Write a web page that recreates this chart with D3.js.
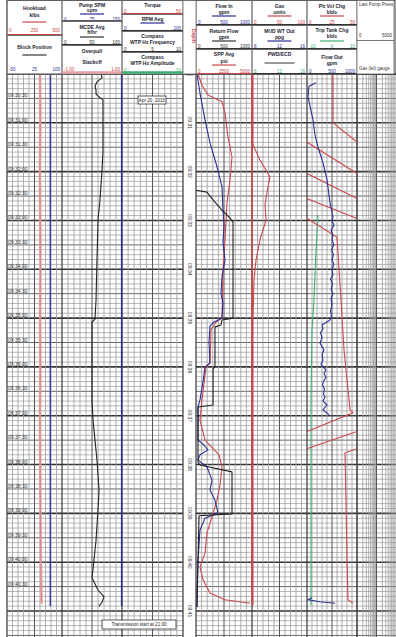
<!DOCTYPE html>
<html><head><meta charset="utf-8">
<script src="https://cdn.jsdelivr.net/npm/d3@7"></script>
<style>body{margin:0;background:#fff}svg{display:block}text{font-family:"Liberation Sans",Arial,sans-serif}</style>
</head><body><svg id="c" width="396" height="637"></svg>
<script>
// ---------- DATA (time in minutes from 09:30:00, values in curve units) ----------
const timeLabels = ["09:30:30","09:31:00","09:31:30","09:32:00","09:32:30","09:33:00","09:33:30","09:34:00","09:34:30","09:35:00","09:35:30","09:36:00","09:36:30","09:37:00","09:37:30","09:38:00","09:38:30","09:39:00","09:39:30","09:40:00","09:40:30"];
const depthLabels = ["09:31","09:32","09:33","09:34","09:35","09:36","09:37","09:38","09:39","09:40","09:41"];

const hookload = [[0,300],[1,303],[2,299],[3,302],[4,304],[5,301],[6,303],[7,300],[8,302],[9,304],[10,308],[10.6,312],[10.85,314]];
const blockPos = [[0,68],[3,68],[6,68],[9,68],[10.9,68]];
const pumpSpm = [[0,149],[5,149],[10.9,149]];
const mcdeAvg = [[0,65],[0.08,66.7],[0.16,58.3],[0.25,55],[0.33,56.7],[0.41,56.7],[0.45,60],[0.53,68.3],[1.56,68.3],[1.97,66.7],[2.58,63.3],[2.99,60],[3.81,58.3],[4.63,56.7],[5.02,55],[5.08,50],[5.86,50],[6.68,50],[7.09,51.7],[7.5,55],[7.91,58.3],[8.52,61.7],[8.93,60],[9.55,56.7],[9.96,53.3],[10.32,50],[10.57,60],[10.71,70],[10.82,66.7],[10.9,61.7]];
const sppAvg = [[0,179],[0.23,536],[0.43,1071],[0.57,2321],[0.8,2589],[1.29,2857],[1.7,3214],[2.17,3036],[2.64,2768],[3.4,2589],[4.01,2411],[5.0,2321],[5.08,1786],[5.24,1339],[5.92,1250],[6.0,893],[6.68,536],[7.09,357],[7.5,804],[7.8,2054],[8.05,2321],[8.42,2143],[8.73,1875],[9.07,1429],[9.4,982],[9.81,804],[10.1,357],[10.36,625],[10.63,1250],[10.77,2589],[10.84,4821]];
const sppHi = [[0,5000],[5,5000],[10.84,5000]];
const flowIn = [[0,18],[0.39,71],[0.94,161],[1.41,250],[1.9,375],[2.31,464],[2.79,482],[3.1,500],[3.46,482],[3.81,518],[4.16,464],[4.5,446],[4.7,482],[5.0,464],[5.08,321],[5.16,250],[5.5,232],[5.92,250],[6.0,161],[6.3,125],[6.68,71],[6.82,36],[7.5,36],[7.6,143],[7.7,214],[7.8,71],[7.91,36],[8.05,196],[8.32,286],[8.52,250],[8.73,339],[8.99,393],[9.1,161],[9.34,71],[9.96,36],[10.57,18],[10.92,18]];
const returnFlow = [[2.38,0],[2.42,196],[2.58,304],[2.79,464],[2.95,607],[3.03,661],[5.0,661],[5.04,464],[5.14,446],[5.18,339],[6.0,339],[6.04,304],[6.78,304],[6.82,36],[7.95,36],[8.01,71],[8.15,643],[9.01,643],[9.05,54],[10.92,18]];
const gas = [[0,1.8],[1.45,1.8],[1.76,14.5],[2.11,32.7],[2.31,29.1],[2.68,23.6],[2.99,25.5],[3.4,14.5],[3.81,7.3],[4.22,3.6],[5.04,1.8],[10.88,1.8]];
const flowOut = [[0.18,180],[0.25,40],[0.47,20],[0.94,120],[1.25,160],[1.5,220],[1.82,320],[2.17,400],[2.64,460],[2.93,520],[3.0,500],[3.1,540],[3.2,480],[3.3,520],[3.4,500],[3.5,540],[3.6,490],[3.7,530],[3.81,500],[3.9,540],[4.0,500],[4.12,520],[4.2,470],[4.3,510],[4.42,480],[4.5,520],[4.6,480],[4.73,500],[4.85,470],[4.95,490],[5.04,460],[5.14,300],[5.22,320],[5.3,270],[5.4,300],[5.51,260],[5.6,310],[5.65,340],[5.75,300],[5.86,320],[5.95,280],[6.06,380],[6.14,340],[6.21,380],[6.3,330],[6.37,310],[6.45,350],[6.55,330],[6.62,360],[6.7,320],[6.78,400],[6.88,320],[6.98,440],[7.0,null],[10.73,100],[10.77,20],[10.81,260],[10.84,560]];
const tripTank = [[2.89,-5.6],[3.61,-6.4],[4.63,-7.2],[5.24,-8],[6.68,-8.4],[10.88,-8.4]];
const pitVol = [[0,326],[1.0,326],[1.41,351],[2.05,401],[2.56,451],[2.97,501],[3.34,530],[4.63,534],[5.65,537],[6.88,543],[6.94,546],[7.33,499],[7.66,452],[7.76,438],[8.73,439],[9.96,440],[10.77,441],[10.84,446]];

// ---------- LAYOUT ----------
const RED="#c9474b", PINK="#e3a2a4", BLUE="#2b2f95", GREEN="#3fae72", DARK="#222";
const tracks=[{x0:7,x1:62},{x0:62,x1:122},{x0:122,x1:183},{x0:196,x1:252},{x0:252,x1:307},{x0:307,x1:357},{x0:357,x1:396,log:true}];
const TOP=74, H=637;
const y=d3.scaleLinear().domain([0,11]).range([TOP,611]);
const svg=d3.select("#c");
svg.append("rect").attr("width",396).attr("height",637).attr("fill","#fff");

// ---------- GRID ----------
const gGrid=svg.append("g");
const maxT=y.invert(H);
const hl=[];
for(let j=0;j/10<=maxT;j++){hl.push({t:j/10,k:j%10===0?2:(j%5===0?1:0)});}
[0,1,2].forEach(level=>{
  hl.filter(d=>d.k===level).forEach(d=>{
    const yy=y(d.t);
    [[7,183],[196,396]].forEach(([a,b])=>{
      gGrid.append("line").attr("x1",a).attr("x2",b).attr("y1",yy).attr("y2",yy)
        .attr("stroke",level===2?"#333":level===1?"#666":"#a4a4a4")
        .attr("stroke-width",level===2?1.6:level===1?1:0.8);
    });
  });
});
tracks.forEach(tr=>{
  if(tr.log){
    const dw=(tr.x1-tr.x0)/2;
    for(let d=0;d<2;d++)for(let k=1;k<=9;k++){
      const xx=tr.x0+dw*(d+Math.log10(k));
      gGrid.append("line").attr("x1",xx).attr("x2",xx).attr("y1",TOP).attr("y2",H)
        .attr("stroke",k===1?"#555":"#9a9a9a").attr("stroke-width",k===1?1:0.8);
    }
  } else {
    for(let i=1;i<10;i++){
      const xx=tr.x0+i*(tr.x1-tr.x0)/10;
      gGrid.append("line").attr("x1",xx).attr("x2",xx).attr("y1",TOP).attr("y2",H)
        .attr("stroke",i===5?"#555":"#9a9a9a").attr("stroke-width",i===5?1:0.8);
    }
  }
});
[7,62,122,183,196,252,307,357].forEach(xx=>{
  gGrid.append("line").attr("x1",xx).attr("x2",xx).attr("y1",TOP).attr("y2",H).attr("stroke","#444").attr("stroke-width",1.3);
});
gGrid.append("line").attr("x1",7).attr("x2",396).attr("y1",TOP).attr("y2",TOP).attr("stroke","#222").attr("stroke-width",1.6);

// time labels
timeLabels.forEach((s,i)=>{
  svg.append("text").attr("x",8).attr("y",y((i+1)*0.5)-1).attr("font-size",5).attr("fill","#333").text(s);
});
// depth column labels
depthLabels.forEach((s,i)=>{
  const yy=y(i+1);
  if(yy>H)return;
  svg.append("text").attr("transform",`translate(187.5,${yy}) rotate(90)`).attr("text-anchor","middle")
    .attr("font-size",5).attr("fill","#333").text(s);
});
svg.append("line").attr("x1",186).attr("x2",193).attr("y1",TOP+0.5).attr("y2",TOP+0.5).attr("stroke","#222").attr("stroke-width",1.5);

// ---------- CURVES ----------
const gC=svg.append("g");
function drawCurve(data,ti,domain,color,w,op){
  const tr=tracks[ti];
  const x=d3.scaleLinear().domain(domain).range([tr.x0,tr.x1]);
  const line=d3.line().defined(d=>d[1]!=null).x(d=>x(d[1])).y(d=>y(d[0]));
  gC.append("path").attr("d",line(data)).attr("fill","none").attr("stroke",color)
    .attr("stroke-width",w).attr("stroke-linejoin","round").attr("opacity",op||1);
}
function drawWrapped(data,ti,period,color,w){
  const tr=tracks[ti];
  const x=d3.scaleLinear().domain([0,period]).range([tr.x0,tr.x1]);
  const segs=[];let cur=[];
  data.forEach((p,i)=>{
    if(i>0){
      const [t0,u0]=data[i-1],[t1,u1]=p;
      const lo=Math.min(u0,u1),hi=Math.max(u0,u1);
      const bs=[];
      for(let b=Math.ceil(lo/period)*period;b<=hi;b+=period){if(b>lo&&b<hi)bs.push(b);}
      if(u1<u0)bs.reverse();
      bs.forEach(b=>{
        const tb=t0+(b-u0)/(u1-u0)*(t1-t0);
        cur.push([tb,u1>u0?period:0]);segs.push(cur);
        cur=[[tb,u1>u0?0:period]];
      });
    }
    cur.push([p[0],p[1]-Math.floor(p[1]/period)*period]);
  });
  segs.push(cur);
  const line=d3.line().x(d=>x(d[1])).y(d=>y(d[0]));
  segs.forEach(s=>gC.append("path").attr("d",line(s)).attr("fill","none").attr("stroke",color).attr("stroke-width",w));
}
drawCurve(hookload,0,[0,500],PINK,2.6,0.9);
drawCurve(hookload,0,[0,500],RED,0.6,0.6);
drawCurve(blockPos,0,[-50,100],BLUE,1.3);
drawCurve(pumpSpm,1,[0,150],BLUE,1.4);
drawCurve(mcdeAvg,1,[0,100],DARK,1.1);
drawCurve(sppHi,3,[0,5000],RED,1.6);
drawCurve(sppAvg,3,[0,5000],RED,1.1);
drawCurve(flowIn,3,[0,1000],BLUE,1.1);
drawCurve(returnFlow,3,[0,1000],DARK,1.1);
drawCurve(gas,4,[0,100],RED,1.1);
drawCurve(tripTank,5,[-10,10],GREEN,1.1);
drawWrapped(pitVol,5,50,RED,1.1);
drawCurve(flowOut,5,[0,1000],BLUE,1.1);

// annotation boxes
function note(x0,y0,w,h,s){
  svg.append("rect").attr("x",x0).attr("y",y0).attr("width",w).attr("height",h).attr("fill","#fff").attr("stroke","#333").attr("stroke-width",0.8);
  svg.append("text").attr("x",x0+w/2).attr("y",y0+h/2+1.6).attr("text-anchor","middle").attr("font-size",4.6).attr("fill","#222").text(s);
}
note(138,96,28,8,"Apr 20, 2015");
note(102,620,74,9,"Transmission start at 21:00");

// ---------- HEADER ----------
const gH=svg.append("g");
gH.append("rect").attr("x",7).attr("y",0.5).attr("width",388).attr("height",73.5).attr("fill","#fff").attr("stroke","#444").attr("stroke-width",1);
const headerCells=[
 {tr:0,y0:0,y1:35,t:[["Hookload",8],["klbs",15]],ln:{y:22,c:RED},sc:{y:30,c:RED,v:["0","250","500"]},bot:RED},
 {tr:0,y0:35,y1:74,t:[["Block Position",47]],ln:{y:55,c:"#333"},sc:{y:69,c:BLUE,v:["-50","25","100"]}},
 {tr:1,y0:0,y1:21,t:[["Pump SPM",5],["spm",10]],ln:{y:14,c:BLUE},sc:{y:19,c:BLUE,v:["0","75","150"]},bot:"#556"},
 {tr:1,y0:21,y1:45,t:[["MCDE Avg",27],["ft/hr",32]],ln:{y:37,c:"#333"},sc:{y:42,c:"#333",v:["0","50","100"]},bot:"#333"},
 {tr:1,y0:45,y1:74,t:[["Overpull",51],["Slackoff",62]],sc:{y:69,c:RED,v:["-1.00","","1.00"]},bot:PINK,band:true},
 {tr:2,y0:0,y1:14,t:[["Torque",5]],sc:{y:11,c:RED,v:["0","","50"]},bot:RED},
 {tr:2,y0:14,y1:31,t:[["RPM Avg",19]],ln:{y:23,c:BLUE},sc:{y:28,c:BLUE,v:["0","","200"]},bot:"#333"},
 {tr:2,y0:31,y1:52,t:[["Compass",36],["WTP Hz Frequency",42]],sc:{y:49,c:"#333",v:["0","5","10"]},bot:"#333"},
 {tr:2,y0:52,y1:74,t:[["Compass",57],["WTP Hz Amplitude",63]],sc:{y:70,c:GREEN,v:["0","","10"]},bot:GREEN,band:true},
 {tr:3,y0:0,y1:25,t:[["Flow In",6],["gpm",12]],ln:{y:16,c:BLUE},sc:{y:22,c:BLUE,v:["0","500","1000"]},bot:"#333"},
 {tr:3,y0:25,y1:49,t:[["Return Flow",31],["gpm",37]],ln:{y:41,c:"#333"},sc:{y:46,c:"#333",v:["0","500","1000"]},bot:"#333"},
 {tr:3,y0:49,y1:74,t:[["SPP Avg",54],["psi",61]],ln:{y:65,c:RED},sc:{y:71,c:RED,v:["0","2500","5000"]},bot:RED},
 {tr:4,y0:0,y1:25,t:[["Gas",6],["units",12]],ln:{y:16,c:RED},sc:{y:22,c:RED,v:["0","50","100"]},bot:"#333"},
 {tr:4,y0:25,y1:49,t:[["MUD WT Out",31],["ppg",37]],ln:{y:41,c:BLUE},sc:{y:46,c:BLUE,v:["8","12","16"]},bot:"#333"},
 {tr:4,y0:49,y1:74,t:[["PWD/ECD",54]],ln:{y:63,c:"#555",w:30},sc:{y:71,c:GREEN,v:["8","12","16"]},bot:"#333"},
 {tr:5,y0:0,y1:25,t:[["Pit Vol Chg",6],["bbls",12]],ln:{y:16,c:RED},sc:{y:22,c:RED,v:["0","25","50"]},bot:"#333"},
 {tr:5,y0:25,y1:49,t:[["Trip Tank Chg",30],["bbls",36]],ln:{y:41,c:GREEN},sc:{y:46,c:GREEN,v:["-10","0","10"]},bot:"#333"},
 {tr:5,y0:49,y1:74,t:[["Flow Out",57],["gpm",63]],sc:{y:71,c:BLUE,v:["0","500","1000"]},bot:"#333"}
];
headerCells.forEach(c=>{
  const tr=tracks[c.tr],x0=tr.x0,x1=tr.x1,cx=(x0+x1)/2;
  gH.append("rect").attr("x",x0).attr("y",c.y0+0.5).attr("width",x1-x0).attr("height",c.y1-c.y0).attr("fill","none").attr("stroke","#666").attr("stroke-width",0.8);
  c.t.forEach(([s,yy])=>gH.append("text").attr("x",cx).attr("y",yy+1.5).attr("text-anchor","middle").attr("font-size",5).attr("font-weight","bold").attr("fill","#1c1c30").text(s));
  if(c.ln){const hw=(c.ln.w||24)/2;gH.append("line").attr("x1",cx-hw).attr("x2",cx+hw).attr("y1",c.ln.y).attr("y2",c.ln.y).attr("stroke",c.ln.c).attr("stroke-width",1.2);}
  if(c.sc){
    const [l,m,r]=c.sc.v;
    gH.append("text").attr("x",x0+2).attr("y",c.sc.y+1.5).attr("font-size",4.5).attr("fill",c.sc.c).text(l);
    gH.append("text").attr("x",cx).attr("y",c.sc.y+1.5).attr("text-anchor","middle").attr("font-size",4.5).attr("fill",c.sc.c).text(m);
    gH.append("text").attr("x",x1-2).attr("y",c.sc.y+1.5).attr("text-anchor","end").attr("font-size",4.5).attr("fill",c.sc.c).text(r);
  }
  if(c.bot){gH.append("line").attr("x1",x0).attr("x2",x1).attr("y1",c.y1-(c.band?1.5:0.5)).attr("y2",c.y1-(c.band?1.5:0.5)).attr("stroke",c.bot).attr("stroke-width",c.band?2.5:1);}
});
// depth header
gH.append("rect").attr("x",183).attr("y",0.5).attr("width",13).attr("height",73.5).attr("fill","#fff").attr("stroke","#666").attr("stroke-width",0.8);
gH.append("text").attr("transform","translate(191.5,36) rotate(90)").attr("text-anchor","middle").attr("font-size",5).attr("font-weight","bold").attr("fill",RED).text("Depth");
// track 7 header
gH.append("rect").attr("x",357).attr("y",0.5).attr("width",37).attr("height",40).attr("fill","#fff").attr("stroke","#666").attr("stroke-width",0.8);
gH.append("rect").attr("x",357).attr("y",40.5).attr("width",37).attr("height",33.5).attr("fill","#fff").attr("stroke","#666").attr("stroke-width",0.8);
gH.append("text").attr("x",359).attr("y",6).attr("font-size",4.5).attr("fill","#333").text("Last Pump Press");
gH.append("text").attr("x",359).attr("y",37).attr("font-size",4.5).attr("fill","#333").text("0");
gH.append("text").attr("x",392).attr("y",37).attr("text-anchor","end").attr("font-size",4.5).attr("fill","#333").text("5000");
gH.append("text").attr("x",359).attr("y",70).attr("font-size",4.5).attr("fill","#333").text("Gas (lel) gauge");
</script></body></html>
